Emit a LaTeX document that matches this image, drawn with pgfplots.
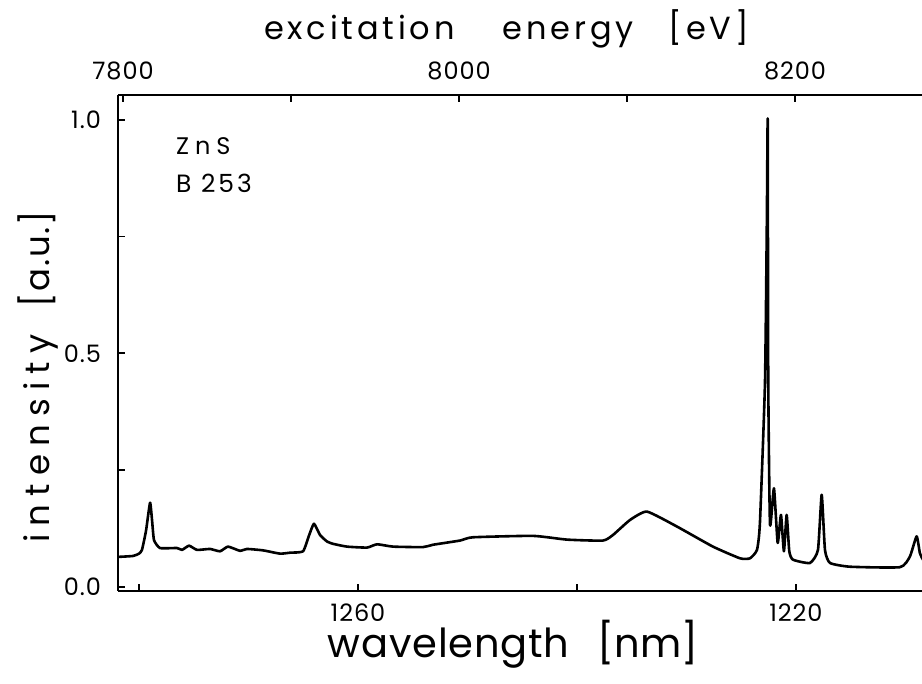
\documentclass[border=0pt]{standalone}
\usepackage{fontspec}
\setmainfont{Poppins}
\usepackage{pgfplots}
\pgfplotsset{compat=1.18}

\pgfplotstableread{
lambda I
1281.92 0.064
1280.55 0.066
1280.00 0.071
1279.73 0.079
1279.36 0.120
1278.99 0.180
1278.80 0.140
1278.63 0.100
1278.08 0.083
1276.53 0.083
1276.07 0.079
1275.43 0.088
1274.70 0.079
1273.52 0.081
1272.60 0.076
1271.87 0.086
1270.78 0.077
1270.14 0.081
1268.68 0.078
1267.12 0.071
1266.21 0.073
1265.02 0.076
1264.47 0.110
1264.02 0.135
1263.47 0.111
1262.83 0.097
1262.28 0.092
1261.00 0.086
1259.18 0.084
1258.26 0.091
1256.80 0.086
1254.06 0.085
1253.15 0.090
1250.68 0.099
1249.50 0.106
1244.02 0.109
1240.91 0.101
1237.63 0.099
1236.71 0.111
1235.16 0.143
1233.61 0.161
1230.87 0.129
1227.58 0.086
1225.11 0.061
1224.20 0.061
1223.56 0.079
1223.29 0.137
1222.83 0.437
1222.66 0.780
1222.58 1.000
1222.53 0.440
1222.37 0.133
1222.01 0.211
1221.67 0.094
1221.37 0.154
1221.10 0.076
1220.85 0.154
1220.61 0.076
1220.27 0.058
1218.72 0.051
1217.99 0.079
1217.65 0.197
1217.35 0.079
1216.89 0.051
1215.07 0.043
1210.50 0.042
1209.59 0.065
1208.98 0.108
1208.68 0.072
1208.40 0.058
}\spectrum

\begin{document}
\begin{tikzpicture}
\pgfplotsset{
  every axis/.append style={
    scale only axis, width=402pt, height=248pt,
    axis line style={line width=1pt},
    tick style={line width=0.9pt, black},
    tick align=inside,
    major tick length=3.5pt,
    tick label style={font=\fontsize{12}{14}\selectfont\addfontfeature{LetterSpace=4}},
    /pgf/number format/assume math mode=true,
  },
}
% wavelength axis with the spectrum
\begin{axis}[
  x dir=reverse,
  xmin=1208.49, xmax=1281.92,
  ymin=-0.009, ymax=1.053,
  axis x line*=bottom, axis y line*=left,
  xtick={1220,1240,1260,1280},
  xticklabels={1220,{},1260,{}},
  ytick={0,0.25,0.5,0.75,1},
  yticklabels={0.0,{},0.5,{},1.0},
  xticklabel style={yshift=-3pt},
  yticklabel style={xshift=-5pt},
]
  \addplot[black, line width=1.3pt, line join=round, smooth, tension=0.3]
    table[x=lambda, y=I] {\spectrum};
\end{axis}
% energy axis on top
\begin{axis}[
  xmin=7797, xmax=8275.6, ymin=0, ymax=1,
  axis x line*=top, axis y line=none,
  xtick={7800,7900,8000,8100,8200},
  xticklabels={7800,{},8000,{},8200},
  xticklabel style={yshift=4pt},
]
\end{axis}
\node[anchor=base, font=\fontsize{16}{18}\selectfont\addfontfeature{LetterSpace=12}] at (194.25pt,275.5pt)
  {excitation\hspace{1.5em}energy\hspace{1.1em}[eV]};
\node[anchor=base, font=\fontsize{20}{22}\selectfont] at (197.5pt,-33.5pt)
  {{\addfontfeature{LetterSpace=2}wavelength}\hspace{0.7em}[nm]};
\node[anchor=base, rotate=90, font=\fontsize{17}{19}\selectfont] at (-34pt,107pt)
  {{\addfontfeature{LetterSpace=24}intensity}\hspace{0.8em}{\addfontfeature{LetterSpace=5}[a.u.]}};
\node[anchor=base west, font=\fontsize{12}{14}\selectfont\addfontfeature{LetterSpace=25}] at (25.5pt,218pt) {ZnS};
\node[anchor=base west, font=\fontsize{12.5}{14}\selectfont\addfontfeature{LetterSpace=12}] at (25.5pt,199pt) {B 253};
\pgfresetboundingbox
\path[use as bounding box] (-59pt,-46.5pt) rectangle (402pt,295.5pt);
\end{tikzpicture}
\end{document}
